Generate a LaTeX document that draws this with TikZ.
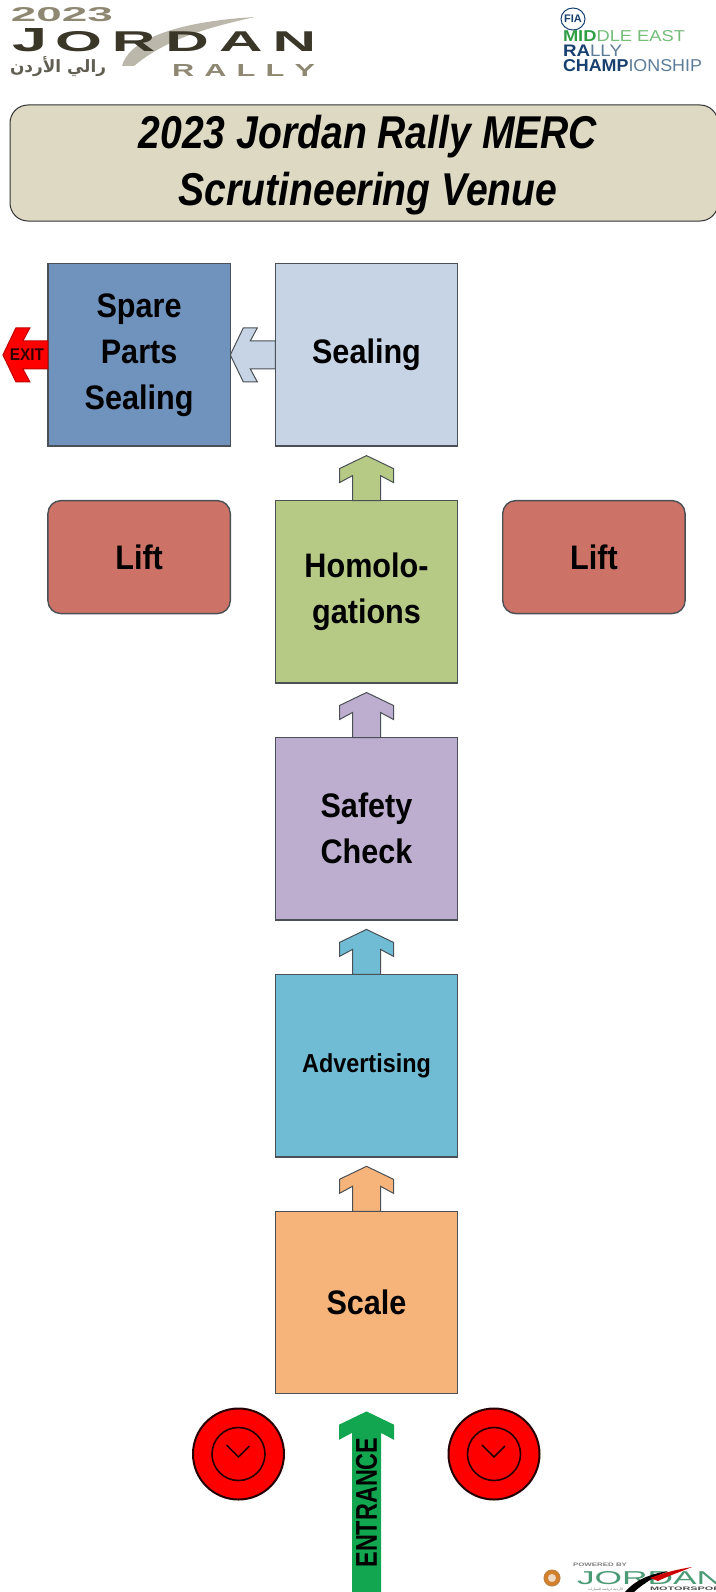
\documentclass[tikz,border=0pt]{standalone}
\usepackage{fontspec}
\usepackage{graphicx}
\usetikzlibrary{positioning}
\setmainfont{Liberation Sans}
\newfontfamily\boxfont[FakeStretch=0.9]{Liberation Sans}
\newfontfamily\titlefont[FakeStretch=0.85]{Liberation Sans}
\newfontfamily\entryfont[FakeStretch=0.78]{Liberation Sans}
\newfontfamily\arabicfont[Script=Arabic]{DejaVu Sans}
\TeXXeTstate=1
\definecolor{titlefill}{HTML}{DDD9C3}
\definecolor{sparefill}{HTML}{7093BE}
\definecolor{sealfill}{HTML}{C6D4E5}
\definecolor{homofill}{HTML}{B6CA86}
\definecolor{safefill}{HTML}{BDAED0}
\definecolor{advfill}{HTML}{6FBCD4}
\definecolor{scalefill}{HTML}{F6B47B}
\definecolor{liftfill}{HTML}{CC7267}
\definecolor{entrygreen}{HTML}{12A650}
\definecolor{edgegray}{HTML}{4A5055}
\definecolor{logodark}{HTML}{3A3628}
\definecolor{logotan}{HTML}{8E8873}
\definecolor{fiagreen}{HTML}{2F9E44}
\definecolor{fialight}{HTML}{74BC78}
\definecolor{fianavy}{HTML}{17406F}
\definecolor{fiablue}{HTML}{5C7C99}
\definecolor{jmgreen}{HTML}{4A9A75}
\tikzset{
	stationbox/.style={draw=edgegray,line width=1.4pt,minimum size=182.4pt,inner sep=0pt,outer sep=0pt,
		align=center,font=\boxfont\bfseries\fontsize{34}{46}\selectfont},
	liftbox/.style={stationbox,rounded corners=13pt,minimum height=113pt},
	logotext/.style={inner sep=0pt,outer sep=0pt,anchor=south west},
	pics/blockarrow/.style n args={3}{code={
		\filldraw[fill=#1,draw=#2,line width=1pt,line join=miter] (-14,0) -- (-14,{-#3+20}) -- (-27,{-#3+27}) -- (-27,{-#3+13})
			-- (0,-#3) -- (27,{-#3+13}) -- (27,{-#3+27}) -- (14,{-#3+20}) -- (14,0) -- cycle;
	}},
	pics/stopdisc/.style={code={
		\filldraw[fill=red,draw=black!85!red,line width=2pt] (0,0) circle (45.5pt);
		\draw[black!85!red,line width=1.6pt] (0,0) circle (26.5pt);
		\draw[black!85!red,line width=1.6pt] (-12,-9) -- (0,3) -- (11,-8);
	}},
}
\begin{document}
\begin{tikzpicture}[x=1pt,y=-1pt]
	\useasboundingbox (0,0) rectangle (715,1592);
	% jordan rally logo
	\fill[logotan!60!white] (122,66) .. controls (128,42) and (170,22) .. (255,17) .. controls (205,28) and (165,40) .. (134,66) -- cycle;
	\node[logotext,text=logotan] (logoyear) at (11,21.5) {\resizebox{102pt}{14pt}{\bfseries 2023}};
	\node[logotext,text=logodark] (logoj) at (12,52) {\resizebox{35pt}{23pt}{\bfseries J}};
	\node[logotext,text=logodark] (logoname) at (55,52) {\resizebox{261pt}{20pt}{\bfseries O\,R\,D\,A\,N}};
	\node[logotext,text=logodark!80!white] (logoarabic) at (10,77) {\resizebox{96pt}{16pt}{\arabicfont\bfseries\beginR رالي الأردن\endR}};
	\node[logotext,text=logotan] (logorally) at (172,77) {\resizebox{143pt}{12pt}{\bfseries R\,\,A\,\,L\,\,L\,\,Y}};
	% fia logo
	\draw[fianavy,fill=white,line width=1pt] (573,19) ellipse (12pt and 11pt);
	\node[text=fianavy,font=\bfseries\fontsize{11}{11}\selectfont,inner sep=0pt] (fiamark) at (573,19) {FIA};
	\node[logotext] (fialineone) at (563,42) {\resizebox{122pt}{11pt}{\textcolor{fiagreen}{\bfseries MID}\textcolor{fialight}{DLE EAST}}};
	\node[logotext] (fialinetwo) at (563,57) {\resizebox{59pt}{11.5pt}{\textcolor{fianavy}{\bfseries RA}\textcolor{fiablue}{LLY}}};
	\node[logotext] (fialinethree) at (563,72) {\resizebox{139pt}{12pt}{\textcolor{fianavy}{\bfseries CHAMP}\textcolor{fiablue}{IONSHIP}}};
	% title
	\node[draw=black!80,fill=titlefill,line width=1pt,rounded corners=18pt,minimum width=708pt,minimum height=116pt,
		inner sep=0pt,outer sep=0pt,anchor=north west] (title) at (10,105) {};
	\node[font=\titlefont\bfseries\itshape\fontsize{46}{57}\selectfont,align=center,inner sep=0pt] (titletext)
		at ([shift={(4,2)}]title.center) {2023 Jordan Rally MERC\\Scrutineering Venue};
	% stations, from the scale upwards
	\node[stationbox,fill=scalefill] (scale) at (366.5,1302.5) {Scale};
	\node[stationbox,fill=advfill,above=54.5pt of scale,font=\boxfont\bfseries\fontsize{26}{32}\selectfont] (advert) {Advertising};
	\node[stationbox,fill=safefill,above=54.5pt of advert] (safety) {Safety\\Check};
	\node[stationbox,fill=homofill,above=54.5pt of safety] (homolog) {Homolo-\\gations};
	\node[stationbox,fill=sealfill,above=54.5pt of homolog] (sealing) {Sealing};
	\node[stationbox,fill=sparefill,left=45pt of sealing] (spare) {Spare\\Parts\\Sealing};
	\node[liftbox,fill=liftfill,left=45pt of homolog.north west,anchor=north east] (liftleft) {Lift};
	\node[liftbox,fill=liftfill,right=45pt of homolog.north east,anchor=north west] (liftright) {Lift};
	\foreach \from/\col in {scale/scalefill,advert/advfill,safety/safefill,homolog/homofill}{
		\path (\from.north) pic {blockarrow={\col}{edgegray}{45}};
	}
	\path (sealing.west) pic[rotate=90] {blockarrow={sealfill}{edgegray}{45}};
	\path (spare.west) pic[rotate=90] {blockarrow={red}{red!75!black}{45}};
	\node[font=\boxfont\bfseries\fontsize{17}{17}\selectfont,text=black!80!red,inner sep=0pt] (exitlabel) at (27,355) {EXIT};
	% entrance
	\coordinate (entrybase) at (366.5,1600);
	\path (entrybase) pic {blockarrow={entrygreen}{entrygreen}{188}};
	\node[rotate=90,font=\entryfont\bfseries\fontsize{30}{30}\selectfont,inner sep=0pt] (entrylabel) at (366.5,1502.5) {ENTRANCE};
	\coordinate (discleft) at (238.5,1454);
	\coordinate (discright) at (494,1454);
	\path (discleft) pic {stopdisc};
	\path (discright) pic {stopdisc};
	% powered by logo
	\filldraw[fill=brown!70!orange,draw=brown,line width=1pt] (552,1578) circle (8pt);
	\fill[white!70!brown] (552,1578) circle (4pt);
	\node[logotext,text=gray] (poweredby) at (573,1567) {\resizebox{54pt}{3.5pt}{\bfseries POWERED BY}};
	\node[logotext,text=jmgreen] (jmname) at (577,1585) {\resizebox{145pt}{13pt}{JORDAN}};
	\fill[black] (625,1592) .. controls (635,1580) and (650,1574) .. (668,1571) .. controls (655,1577) and (645,1582) .. (634,1592) -- cycle;
	\fill[red!80!black] (650,1578) .. controls (665,1572) and (680,1569) .. (692,1567) .. controls (680,1572) and (668,1576) .. (658,1581) -- cycle;
	\node[logotext,text=black!70] (jmsport) at (650,1590.5) {\resizebox{78pt}{3.5pt}{\bfseries MOTORSPORT}};
	\node[logotext,text=black!60] (jmarabic) at (588,1591.5) {\resizebox{35pt}{3pt}{\arabicfont\beginR الأردنية لرياضة السيارات\endR}};
\end{tikzpicture}
\end{document}
